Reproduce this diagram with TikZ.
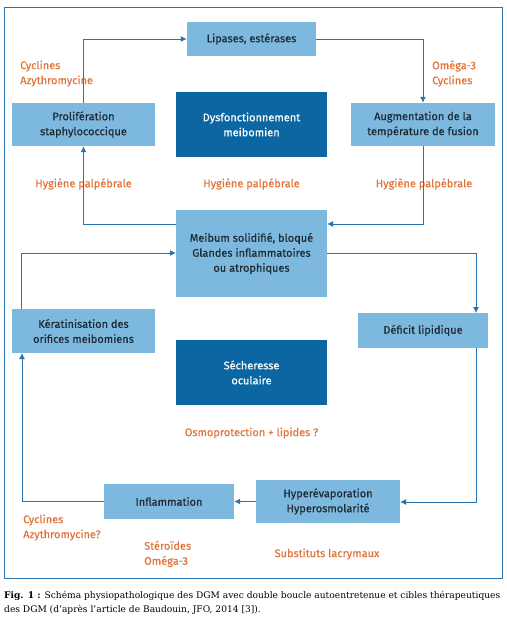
\documentclass[tikz,border=0pt]{standalone}
\usepackage{fontspec}
\setmainfont{DejaVu Serif}
\setsansfont{Fira Sans}[FakeBold=0.5]
\usetikzlibrary{arrows.meta}
\definecolor{lightbox}{HTML}{7DB9DE}
\definecolor{darkbox}{HTML}{0B66A2}
\definecolor{linec}{HTML}{2673AE}
\definecolor{orangec}{HTML}{E0753C}
\definecolor{textc}{HTML}{1E2A33}
\tikzset{
  lbox/.style={fill=lightbox, text=textc, align=center, inner sep=0pt, font=\sffamily\fontsize{11}{15}\selectfont},
  dbox/.style={fill=darkbox, text=white, align=center, inner sep=0pt, font=\sffamily\fontsize{11}{15}\selectfont},
  lab/.style={text=orangec, inner sep=0pt, font=\sffamily\fontsize{11}{15}\selectfont},
  conn/.style={draw=linec, line width=1pt, -{Latex[length=6pt,width=6pt]}},
}
\begin{document}
\begin{tikzpicture}[x=1pt,y=-1pt]
\useasboundingbox (0,0) rectangle (506,621);
\fill[white] (0,0) rectangle (506,621);
\draw[linec, line width=1.6pt] (4.5,7.5) rectangle (502.5,578.5);

% boxes
\node[lbox, minimum width=129pt, minimum height=34pt] (lip) at (251.5,39) {Lipases, estérases};
\node[dbox, minimum width=151pt, minimum height=65pt] (dys) at (251.5,124.5) {Dysfonctionnement\\meibomien};
\node[lbox, minimum width=143pt, minimum height=43pt] (pro) at (83.5,124.5) {Prolifération\\staphylococcique};
\node[lbox, minimum width=144pt, minimum height=43pt] (aug) at (423,124.5) {Augmentation de la\\température de fusion};
\node[lbox, minimum width=151pt, minimum height=87pt] (mei) at (251.5,253.5) {Meibum solidifié, bloqué\\Glandes inflammatoires\\ou atrophiques};
\node[lbox, minimum width=143pt, minimum height=44pt] (ker) at (83.5,331) {Kératinisation des\\orifices meibomiens};
\node[lbox, minimum width=130pt, minimum height=35pt] (def) at (423,330.5) {Déficit lipidique};
\node[dbox, minimum width=151pt, minimum height=65pt] (sec) at (251.5,372.5) {Sécheresse\\oculaire};
\node[lbox, minimum width=130pt, minimum height=35pt] (inf) at (169,501.5) {Inflammation};
\node[lbox, minimum width=144pt, minimum height=43pt] (hyp) at (328,501.5) {Hyperévaporation\\Hyperosmolarité};

% orange labels
\node[lab, anchor=west, align=left] (l1) at (20,73.5) {Cyclines\\Azythromycine};
\node[lab, anchor=west, align=left] (l2) at (432,73.5) {Oméga-3\\Cyclines};
\node[lab] (l3) at (83.5,184) {Hygiène palpébrale};
\node[lab] (l4) at (251.5,184) {Hygiène palpébrale};
\node[lab] (l5) at (424,184) {Hygiène palpébrale};
\node[lab] (l6) at (251.5,433) {Osmoprotection + lipides ?};
\node[lab, anchor=west, align=left] (l7) at (23,527.5) {Cyclines\\Azythromycine?};
\node[lab, anchor=west, align=left] (l8) at (144,554) {Stéroïdes\\Oméga-3};
\node[lab] (l9) at (327,554) {Substituts lacrymaux};

% bend coordinates
\coordinate (mL1) at (176,224);
\coordinate (mR1) at (327,224);
\coordinate (mL2) at (176,253);
\coordinate (mR2) at (327,253);
\coordinate (kT) at (21,309);
\coordinate (kB) at (22,353);
\coordinate (dT) at (476,313);
\coordinate (dB) at (476,348);
\coordinate (hR) at (400,502);
\coordinate (pT) at (83.5,103);

% connectors
\draw[conn] (pT) |- (lip.west);
\draw[conn] (lip.east) -| (aug.north);
\draw[conn] (aug.south) |- (mR1);
\draw[conn] (mL1) -| (pro.south);
\draw[conn] (kT) |- (mL2);
\draw[conn] (mR2) -| (dT);
\draw[conn] (dB) |- (hR);
\draw[conn] (hyp.west) -- (inf.east);
\draw[conn] (inf.west) -| (kB);

% caption
\node[anchor=north west, align=left, inner sep=0pt, font=\fontsize{9.1}{14}\selectfont] (cap) at (4,591)
 {\textbf{Fig. 1 :} Schéma physiopathologique des DGM avec double boucle autoentretenue et cibles thérapeutiques\\des DGM (d’après l’article de Baudouin, JFO, 2014 [3]).};
\end{tikzpicture}
\end{document}
